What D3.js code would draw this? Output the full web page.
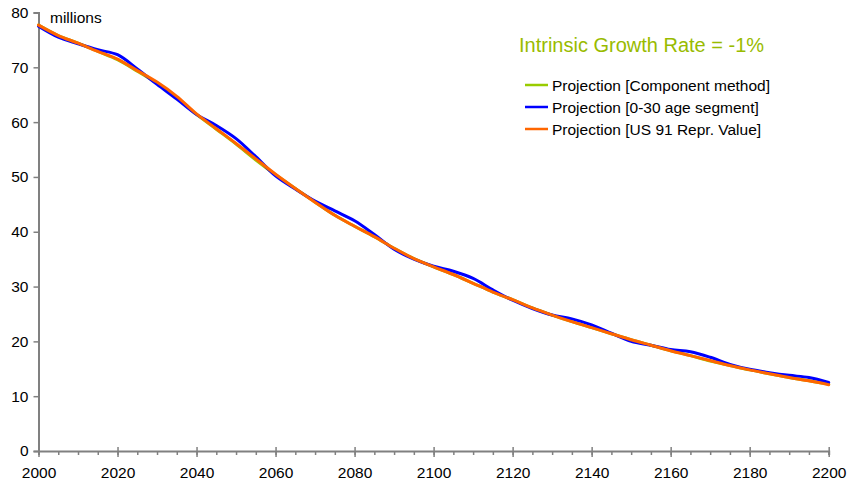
<!DOCTYPE html>
<html><head><meta charset="utf-8">
<script src="https://cdn.jsdelivr.net/npm/d3@7"></script>
<style>body{margin:0;background:#fff}svg{display:block}text{font-family:"Liberation Sans",Arial,sans-serif}</style>
</head><body><svg id="c" width="849" height="485"></svg>
<script>
const years = d3.range(2000, 2201, 5);
const componentMethod = [77.7,75.8,74.4,72.9,71.4,69.3,67.1,64.5,61.4,58.7,56.0,53.1,50.4,47.9,45.4,43.0,41.0,39.1,37.0,35.1,33.6,32.2,30.6,29.0,27.6,26.1,24.8,23.6,22.5,21.4,20.3,19.3,18.3,17.4,16.4,15.6,14.8,14.1,13.4,12.8,12.2];
const ageSegment = [77.5,75.5,74.3,73.2,72.3,69.7,66.9,64.2,61.4,59.4,57.0,53.7,50.2,47.8,45.6,43.8,42.0,39.5,36.8,35.0,33.7,32.8,31.5,29.4,27.5,26.0,24.8,24.1,23.0,21.5,20.0,19.3,18.5,18.1,17.1,15.8,14.9,14.3,13.8,13.4,12.5];
const reprValue = [77.7,75.8,74.4,72.9,71.5,69.4,67.3,64.7,61.5,58.8,56.1,53.3,50.5,47.9,45.4,43.0,41.0,39.1,37.0,35.1,33.6,32.2,30.6,29.0,27.6,26.1,24.8,23.6,22.5,21.4,20.3,19.3,18.3,17.4,16.5,15.6,14.8,14.1,13.4,12.8,12.1];
const seriesNames = ["Projection [Component method]","Projection [0-30 age segment]","Projection [US 91 Repr. Value]"];
const seriesColors = ["#99cc00","#0000ff","#ff6600"];
const yTicks = [0,10,20,30,40,50,60,70,80];
const xMajorTicks = d3.range(2000, 2201, 20);
const xMinorTicks = d3.range(2000, 2201, 5);
const title = "Intrinsic Growth Rate = -1%";
const unitLabel = "millions";

const svg = d3.select("#c");
const x = d3.scaleLinear().domain([2000,2200]).range([38.5,828.7]);
const y = d3.scaleLinear().domain([0,80]).range([451,12.5]);
const axisColor = "#808080";
const font = "'Liberation Sans',Arial,sans-serif";

// Y axis
const ya = svg.append("g").attr("transform","translate(38.5,0)")
  .call(d3.axisLeft(y).tickValues(yTicks).tickSize(5).tickPadding(5));
ya.select(".domain").attr("stroke",axisColor).attr("stroke-width",2);
ya.selectAll(".tick line").attr("stroke",axisColor).attr("stroke-width",1.5);
ya.selectAll("text").attr("fill","#000").style("font-size","15.5px").style("font-family",font);

// X axis: minor ticks (below), major ticks (crossing)
const xg = svg.append("g").attr("transform","translate(0,451)");
xg.call(d3.axisBottom(x).tickValues(xMinorTicks).tickSize(4).tickFormat(""));
xg.select(".domain").attr("stroke",axisColor).attr("stroke-width",2);
xg.selectAll(".tick line").attr("stroke",axisColor).attr("stroke-width",1.5);
const xg2 = svg.append("g").attr("transform","translate(0,451)");
xg2.call(d3.axisBottom(x).tickValues(xMajorTicks).tickSize(6).tickPadding(10).tickFormat(d3.format("d")));
xg2.select(".domain").remove();
xg2.selectAll(".tick line").attr("y1",-4).attr("stroke",axisColor).attr("stroke-width",1.5);
xg2.selectAll("text").attr("fill","#000").style("font-size","15.5px").style("font-family",font);

// Lines
const line = d3.line().x((d,i)=>x(years[i])).y(d=>y(d)).curve(d3.curveCatmullRom.alpha(0.5));
[componentMethod, ageSegment, reprValue].forEach((s,k)=>{
  svg.append("path").attr("d",line(s)).attr("fill","none")
    .attr("stroke",seriesColors[k]).attr("stroke-width",3).attr("stroke-linejoin","round").attr("stroke-linecap","round");
});

// Unit label
svg.append("text").attr("x",50).attr("y",23).style("font-size","15.5px").attr("fill","#000").text(unitLabel);

// Title
svg.append("text").attr("x",519).attr("y",52).style("font-size","20px").attr("fill","#99bb00").text(title);

// Legend
seriesNames.forEach((n,k)=>{
  const ly = 85 + k*22;
  svg.append("line").attr("x1",525).attr("x2",548).attr("y1",ly).attr("y2",ly)
    .attr("stroke",seriesColors[k]).attr("stroke-width",2.5);
  svg.append("text").attr("x",552).attr("y",ly+5.5).style("font-size","15.5px").attr("fill","#000").text(n);
});
</script></body></html>
